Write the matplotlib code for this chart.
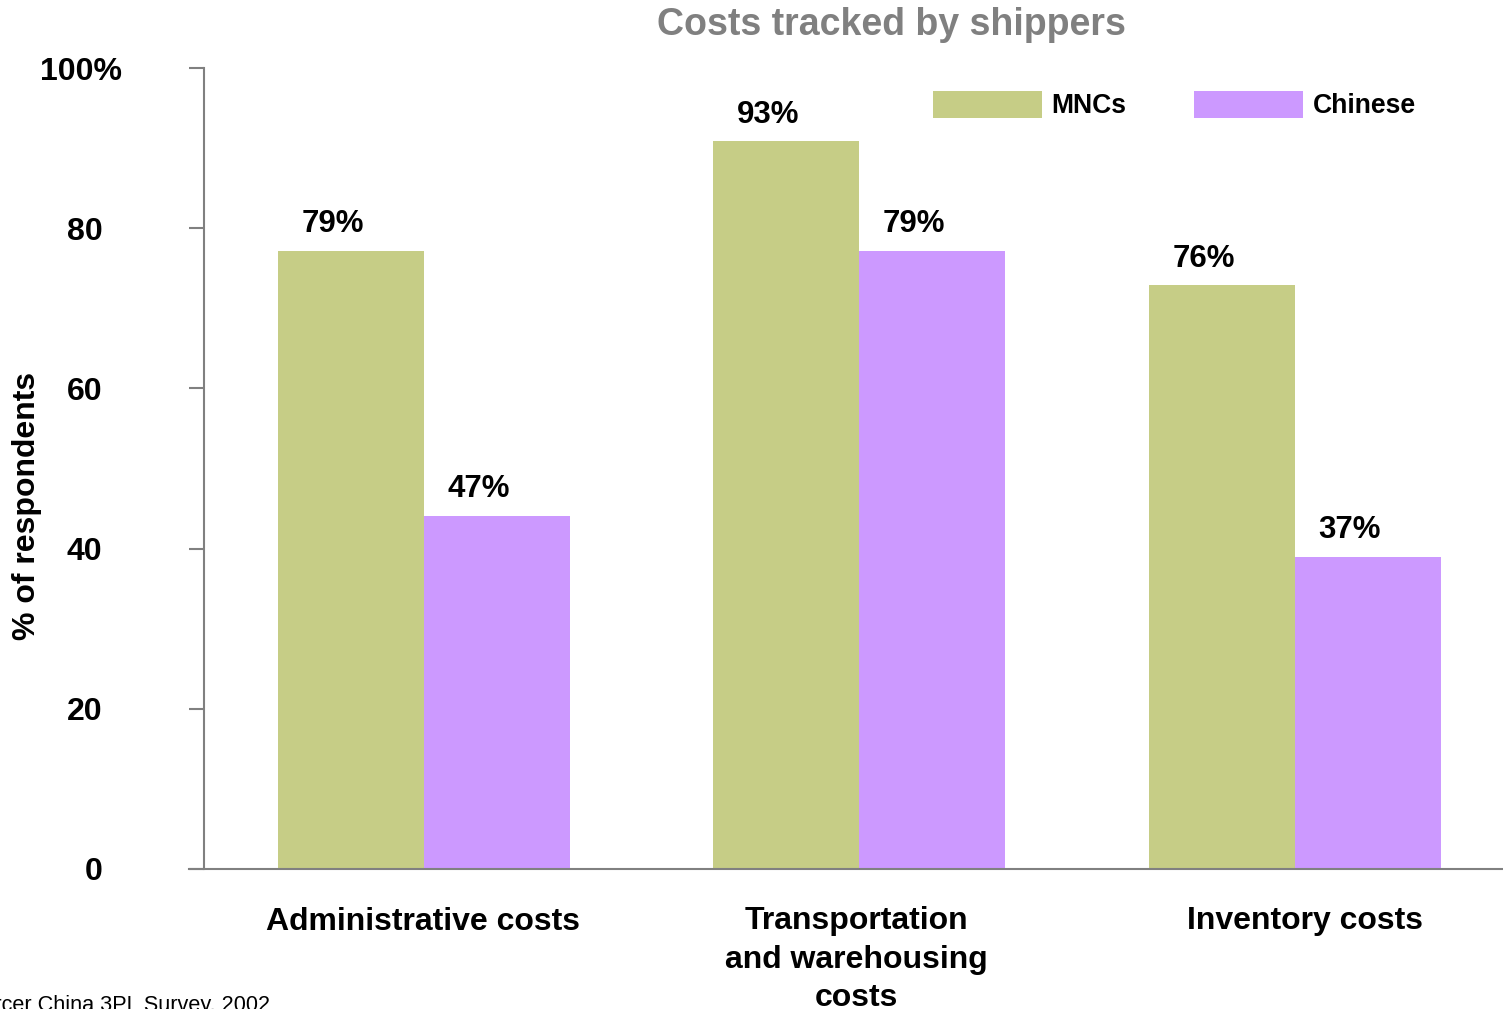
import matplotlib.pyplot as plt
import matplotlib.transforms as mtransforms
import numpy as np

# Data (bar heights as drawn, labels as printed)
categories = ['Administrative costs', 'Transportation\nand warehousing\ncosts', 'Inventory costs']
series_names = ['MNCs', 'Chinese']
mnc_heights = [77.2, 90.9, 72.9]
chinese_heights = [44.1, 77.2, 39.0]
mnc_labels = ['79%', '93%', '76%']
chinese_labels = ['47%', '79%', '37%']
y_ticks = [0, 20, 40, 60, 80, 100]
y_tick_labels = ['0', '20', '40', '60', '80', '']
top_tick_label = '100%'

plt.rcParams['font.family'] = ['Liberation Sans', 'DejaVu Sans']

W, H = 1503, 1009
fig = plt.figure(figsize=(W / 100, H / 100), dpi=100)
# axes: left 204px, right 1503px, bottom y=869px, top y=68px
ax = fig.add_axes([204 / W, 1 - 869 / H, (1503 - 204) / W, (869 - 68) / H])

mnc_color = '#C6CD86'
chinese_color = '#CC99FF'
grey = '#808080'

x = np.arange(len(categories))
bw = 0.335
ax.bar(x - bw / 2, mnc_heights, bw, color=mnc_color, label=series_names[0])
ax.bar(x + bw / 2, chinese_heights, bw, color=chinese_color, label=series_names[1])

# value labels above bars
for xi, h, lab in zip(x - bw / 2, mnc_heights, mnc_labels):
    ax.annotate(lab, (xi, h), xytext=(-13, 19), textcoords='offset points',
                ha='center', va='center', fontsize=22.5, fontweight='bold')
for xi, h, lab in zip(x + bw / 2, chinese_heights, chinese_labels):
    ax.annotate(lab, (xi, h), xytext=(-13, 19), textcoords='offset points',
                ha='center', va='center', fontsize=22.5, fontweight='bold')

ax.set_xlim(-0.505, 2.478)
ax.set_ylim(0, 100)

for s in ['top', 'right']:
    ax.spines[s].set_visible(False)
ax.spines['left'].set_color(grey)
ax.spines['bottom'].set_color(grey)
ax.spines['left'].set_linewidth(1.5)
ax.spines['bottom'].set_linewidth(1.5)
ax.spines['bottom'].set_bounds(-0.54, 2.478)

ax.set_yticks(y_ticks)
ax.set_yticklabels(y_tick_labels, fontsize=23, fontweight='bold')
ax.tick_params(axis='y', length=11, width=1.5, color=grey, pad=62)
# top label sticks out a little to the right, as in the original
ax.annotate(top_tick_label, xy=(0, y_ticks[-1]), xycoords=('axes fraction', 'data'),
            xytext=(-59, 0), textcoords='offset points', ha='right', va='center_baseline',
            fontsize=23, fontweight='bold')

ax.set_xticks(x)
ax.set_xticklabels(categories, fontsize=23, fontweight='bold', linespacing=1.36)
ax.tick_params(axis='x', length=0, pad=27)
# small horizontal nudges of the category labels (pixels)
for lab, dx in zip(ax.get_xticklabels(), [-1, -3, 10]):
    lab.set_transform(lab.get_transform() +
                      mtransforms.ScaledTranslation(dx / 100, 0, fig.dpi_scale_trans))

ax.set_ylabel('% of respondents', fontsize=23, fontweight='bold')
ax.yaxis.set_label_coords(-162 / (1503 - 204), (869 - 506) / (869 - 68))

leg = ax.legend(loc='upper left', bbox_to_anchor=(933 / W, 1 - 91 / H),
                bbox_transform=fig.transFigure, ncol=2, frameon=False,
                prop={'size': 19.1, 'weight': 'bold'}, handlelength=4.1, handleheight=1.17,
                columnspacing=2.55, handletextpad=0.37, borderpad=0, borderaxespad=0)

fig.text(891 / W, 1 - 25 / H, 'Costs tracked by shippers', ha='center', va='center',
         fontsize=27, fontweight='bold', color=grey)

fig.text(270 / W, 1 - 995 / H, 'Source: Mercer China 3PL Survey, 2002', ha='right',
         va='top', fontsize=15.6)

fig.savefig('out.png', dpi=100)
